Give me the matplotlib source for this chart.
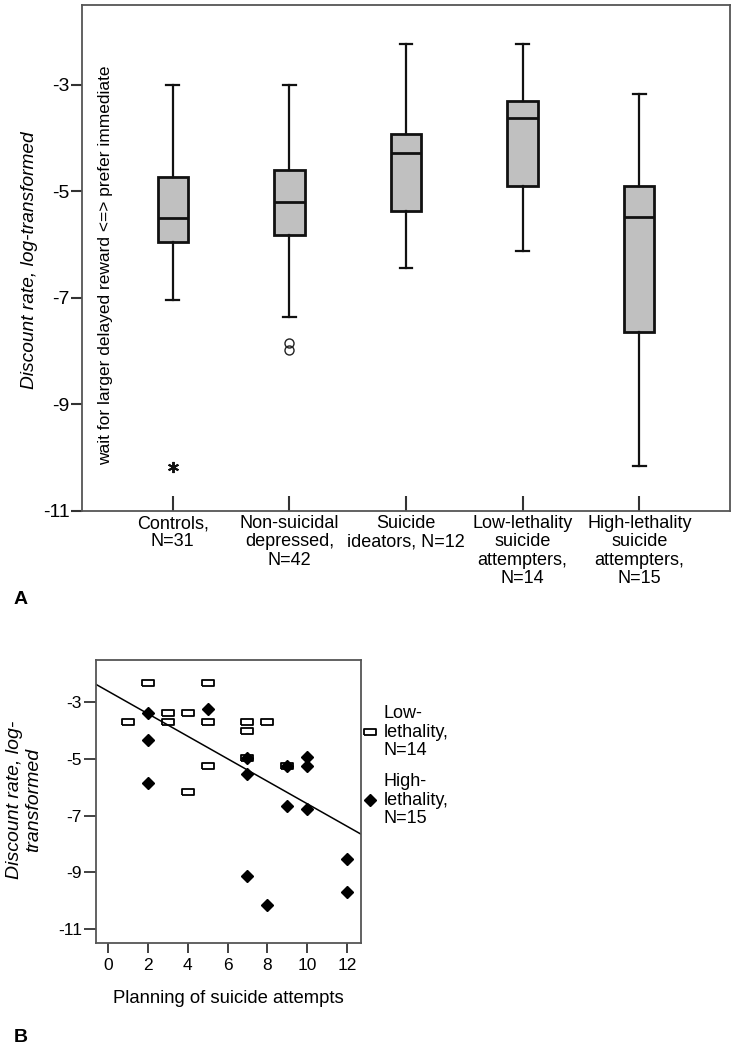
import matplotlib
matplotlib.use("Agg")
import numpy as np
import matplotlib.pyplot as plt

plt.rcParams['font.family'] = ['Liberation Sans', 'DejaVu Sans']
plt.rcParams['axes.unicode_minus'] = False

# ---------------------------
# Panel A data (box plot summary, log discount rate)
# ---------------------------
groups = [
    "Controls,\nN=31",
    "Non-suicidal\ndepressed,\nN=42",
    "Suicide\nideators, N=12",
    "Low-lethality\nsuicide\nattempters,\nN=14",
    "High-lethality\nsuicide\nattempters,\nN=15",
]
whishi = [-3.00, -3.00, -2.24, -2.24, -3.17]
q3 = [-4.72, -4.60, -3.93, -3.30, -4.89]
med = [-5.50, -5.20, -4.28, -3.63, -5.48]
q1 = [-5.95, -5.82, -5.37, -4.89, -7.63]
whislo = [-7.03, -7.35, -6.43, -6.12, -10.16]

# outliers: circles (mild) and star (extreme)
circle_group = [2, 2]
circle_vals = [-7.84, -7.98]
star_group = [1]
star_vals = [-10.17]

# ---------------------------
# Panel B data (planning vs discount rate)
# ---------------------------
low_plan = [2, 5, 1, 3, 3, 4, 5, 7, 7, 8, 7, 5, 4, 9]
low_rate = [-2.30, -2.30, -3.69, -3.36, -3.69, -3.36, -3.69, -3.69, -4.01, -3.69,
            -4.95, -5.25, -6.17, -5.25]
high_plan = [2, 5, 2, 2, 7, 7, 9, 10, 10, 9, 10, 7, 8, 12, 12]
high_rate = [-3.36, -3.22, -4.32, -5.85, -4.95, -5.54, -5.25, -4.92, -5.25, -6.66,
             -6.78, -9.14, -10.17, -8.54, -9.70]
fit_intercept = -2.60
fit_slope = -0.398

W, H = 741, 1050
fig = plt.figure(figsize=(W / 100, H / 100), dpi=100)

# ---------------------------
# Panel A
# ---------------------------
ax1 = fig.add_axes([82 / W, 1 - 511 / H, 648 / W, 506 / H])
positions = np.arange(1, len(groups) + 1)
stats = []
for i in range(len(groups)):
    stats.append(dict(med=med[i], q1=q1[i], q3=q3[i],
                      whislo=whislo[i], whishi=whishi[i], fliers=[]))

edge = "#111111"
ax1.bxp(stats, positions=positions, widths=0.26, capwidths=0.11,
        patch_artist=True, showfliers=False,
        boxprops=dict(facecolor="#c0c0c0", edgecolor=edge, linewidth=2.0),
        medianprops=dict(color=edge, linewidth=2.0),
        whiskerprops=dict(color=edge, linewidth=1.6),
        capprops=dict(color=edge, linewidth=1.6))

ax1.plot(circle_group, circle_vals, linestyle="none", marker="o", ms=6.5,
         mfc="none", mec="#222222", mew=1.0)
ax1.plot(star_group, star_vals, linestyle="none", marker=(6, 2, 0), ms=8,
         mec="#111111", mew=1.4)

ax1.set_xlim(0.222, 5.778)
ax1.set_ylim(-11, -1.5)
ax1.set_yticks([-11, -9, -7, -5, -3])
ax1.set_xticks(positions, groups)
ax1.tick_params(axis="x", direction="in", length=11, width=1.5, pad=3,
                labelsize=13, color="#333333")
ax1.tick_params(axis="y", direction="out", length=8, width=1.5, pad=1,
                labelsize=14, color="#333333")
for t in ax1.get_xticklabels():
    t.set_linespacing(1.1)
for s in ax1.spines.values():
    s.set_color("#555555")
    s.set_linewidth(1.3)

fig.text(30 / W, 1 - 260 / H, "Discount rate, log-transformed", rotation=90,
         ha="center", va="center", style="italic", fontsize=13.75)
fig.text(106 / W, 1 - 265 / H,
         "wait for larger delayed reward <=> prefer immediate", rotation=90,
         ha="center", va="center", fontsize=12.5)
fig.text(21 / W, 1 - 600 / H, "A", ha="center", va="center",
         fontsize=14, fontweight="bold")

# ---------------------------
# Panel B
# ---------------------------
ax2 = fig.add_axes([96 / W, 1 - 943 / H, 265 / W, 283 / H])
rect = [(-1.2, -0.5), (1.2, -0.5), (1.2, 0.5), (-1.2, 0.5), (-1.2, -0.5)]
ax2.plot(low_plan, low_rate, linestyle="none", marker=rect, ms=9,
         mfc="white", mec="black", mew=1.3, label="Low-\nlethality,\nN=14")
ax2.plot(high_plan, high_rate, linestyle="none", marker="D", ms=6,
         mfc="black", mec="black", label="High-\nlethality,\nN=15")

xlo, xhi = -0.6, 12.7
xs = np.array([xlo, xhi])
ax2.plot(xs, fit_intercept + fit_slope * xs, color="black", linewidth=1.1)

ax2.set_xlim(xlo, xhi)
ax2.set_ylim(-11.5, -1.5)
ax2.set_xticks(np.arange(0, 13, 2))
ax2.set_yticks([-11, -9, -7, -5, -3])
ax2.tick_params(axis="both", direction="out", width=1.3, labelsize=12.5,
                color="#333333")
ax2.tick_params(axis="y", length=9, pad=1)
ax2.tick_params(axis="x", length=7, pad=4)
for s in ax2.spines.values():
    s.set_color("#555555")
    s.set_linewidth(1.3)
ax2.set_xlabel("Planning of suicide attempts", fontsize=13.3, labelpad=12)

leg = ax2.legend(loc="upper left", bbox_to_anchor=(1.0, 0.84), frameon=False,
                 borderaxespad=0, borderpad=0, handlelength=1.0,
                 handletextpad=0.25, labelspacing=0.8, numpoints=1,
                 fontsize=13)
for t in leg.get_texts():
    t.set_linespacing(1.1)

fig.text(24 / W, 1 - 800 / H, "Discount rate, log-\ntransformed", rotation=90,
         ha="center", va="center", multialignment="center", style="italic",
         fontsize=14, linespacing=1.2)
fig.text(21 / W, 1 - 1037 / H, "B", ha="center", va="center",
         fontsize=14, fontweight="bold")

fig.savefig("out.png", dpi=100)
